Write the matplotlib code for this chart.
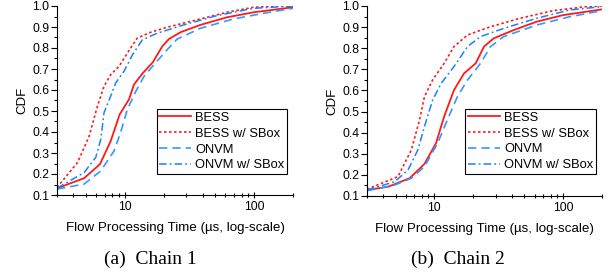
import matplotlib
matplotlib.use("Agg")
import matplotlib.pyplot as plt
from matplotlib.ticker import FixedLocator, NullFormatter, LogLocator

plt.rcParams['font.family'] = ['Liberation Sans', 'DejaVu Sans']

RED = '#ff1a1a'
BLUE = '#3399ff'
BLUE2 = '#1a80ff'

# Chain 1 (x in us, y = CDF)
c1_bess_x = [3, 4.86, 6.45, 7.8, 9.15, 10.8, 11.8, 13.7, 16.5, 19.5, 21.9, 27, 38.5, 61.6, 99, 200]
c1_bess_y = [0.132, 0.18, 0.247, 0.357, 0.484, 0.555, 0.626, 0.678, 0.732, 0.807, 0.842, 0.875, 0.91, 0.946, 0.97, 0.994]
c1_bsb_x = [3, 4.33, 5.32, 6.16, 6.93, 7.8, 9.05, 10.5, 12.5, 15.9, 21.3, 34, 61.6, 99, 150, 200]
c1_bsb_y = [0.136, 0.255, 0.381, 0.523, 0.618, 0.673, 0.713, 0.776, 0.847, 0.875, 0.899, 0.93, 0.97, 0.994, 1.0, 1.0]
c1_onvm_x = [3, 4.86, 6.54, 8.28, 9.3, 10.5, 12.2, 14.1, 17.3, 21.3, 25.4, 38.5, 69, 125, 200]
c1_onvm_y = [0.128, 0.152, 0.215, 0.31, 0.397, 0.508, 0.594, 0.665, 0.729, 0.792, 0.842, 0.894, 0.938, 0.968, 0.989]
c1_osb_x = [3, 4.86, 5.98, 6.54, 6.93, 7.8, 8.53, 9.88, 11.5, 13.7, 17.8, 28.6, 51.6, 99, 200]
c1_osb_y = [0.132, 0.207, 0.279, 0.365, 0.492, 0.571, 0.634, 0.689, 0.768, 0.839, 0.87, 0.91, 0.954, 0.989, 1.0]

# Chain 2
c2_bess_x = [3, 4.38, 6.42, 8.38, 10.3, 11.9, 14.2, 17, 20.9, 24.3, 28.9, 41.3, 62.4, 100, 200]
c2_bess_y = [0.128, 0.144, 0.184, 0.252, 0.35, 0.476, 0.602, 0.681, 0.728, 0.808, 0.847, 0.886, 0.926, 0.957, 0.984]
c2_bsb_x = [3, 5.22, 6.62, 7.67, 8.38, 9.7, 11.9, 14.2, 18.1, 27.3, 46.4, 83.7, 151, 200]
c2_bsb_y = [0.132, 0.192, 0.318, 0.46, 0.571, 0.65, 0.728, 0.808, 0.863, 0.902, 0.942, 0.978, 0.997, 1.0]
c2_onvm_x = [3, 4.93, 6.62, 8.38, 10.6, 12.6, 15.1, 18.1, 22.8, 27.3, 34.5, 62.4, 112, 200]
c2_onvm_y = [0.125, 0.152, 0.184, 0.239, 0.35, 0.46, 0.571, 0.65, 0.728, 0.808, 0.855, 0.91, 0.949, 0.978]
c2_osb_x = [3, 4.93, 6.24, 7.44, 8.38, 9.7, 11.3, 14.2, 18.1, 22.8, 34.5, 62.4, 112, 200]
c2_osb_y = [0.128, 0.168, 0.223, 0.318, 0.429, 0.555, 0.634, 0.713, 0.808, 0.855, 0.894, 0.942, 0.981, 0.997]

labels = ['BESS', 'BESS w/ SBox', 'ONVM', 'ONVM w/ SBox']
captions = ['(a)  Chain 1', '(b)  Chain 2']

fig = plt.figure(figsize=(6.1, 2.75), dpi=100)
ax1 = fig.add_axes([57 / 610, 1 - 195 / 275, 236 / 610, 189 / 275])
ax2 = fig.add_axes([367 / 610, 1 - 196 / 275, 235 / 610, 190 / 275])

chains = [
    (ax1, c1_bess_x, c1_bess_y, c1_bsb_x, c1_bsb_y, c1_onvm_x, c1_onvm_y, c1_osb_x, c1_osb_y, (0.975, 0.111)),
    (ax2, c2_bess_x, c2_bess_y, c2_bsb_x, c2_bsb_y, c2_onvm_x, c2_onvm_y, c2_osb_x, c2_osb_y, (0.974, 0.116)),
]

for i, (ax, bx, by, bsx, bsy, ox, oy, osx, osy, anchor) in enumerate(chains):
    ax.plot(bx, by, color=RED, lw=1.3, label=labels[0])
    ax.plot(bsx, bsy, color=RED, lw=1.2, dashes=(1.5, 1.5), label=labels[1])
    ax.plot(ox, oy, color=BLUE, lw=1.2, dashes=(5, 3), label=labels[2])
    ax.plot(osx, osy, color=BLUE2, lw=1.1, dashes=(5, 2, 1.2, 2), label=labels[3])

    ax.set_xscale('log')
    ax.set_xlim(3, 200)
    ax.set_ylim(0.1, 1.0)
    ax.spines['top'].set_visible(False)
    ax.spines['right'].set_visible(False)
    ax.set_xticks([10, 100])
    ax.set_xticklabels(['10', '100'])
    ax.xaxis.set_minor_locator(LogLocator(base=10, subs=range(2, 10)))
    ax.xaxis.set_minor_formatter(NullFormatter())
    ax.set_yticks([0.1 * k for k in range(1, 11)])
    ax.set_yticklabels(['%.1f' % (0.1 * k) for k in range(1, 11)])
    ax.yaxis.set_minor_locator(FixedLocator([0.15 + 0.1 * k for k in range(9)]))
    ax.tick_params(axis='y', which='major', direction='out', length=4, width=0.8, labelsize=8.7, pad=1.5)
    ax.tick_params(axis='y', which='minor', direction='out', length=2, width=0.8)
    ax.tick_params(axis='x', which='major', direction='inout', length=5, width=0.8, labelsize=8.7, pad=2)
    ax.tick_params(axis='x', which='minor', direction='inout', length=3, width=0.8)
    ax.set_ylabel('CDF', fontsize=9.5, labelpad=3)
    ax.set_xlabel('Flow Processing Time (\u00b5s, log-scale)', fontsize=9.6, labelpad=6)
    leg = ax.legend(loc='lower right', bbox_to_anchor=anchor, fontsize=9.3,
                    fancybox=False, framealpha=1, edgecolor='black',
                    handlelength=2.5, handletextpad=0.3, borderpad=0.2,
                    labelspacing=0.3, borderaxespad=0)
    leg.get_frame().set_linewidth(0.8)

fig.text(150 / 610, 1 - 259 / 275, captions[0], ha='center', va='center',
         fontsize=14, family=['Liberation Serif', 'DejaVu Serif'])
fig.text(458 / 610, 1 - 259 / 275, captions[1], ha='center', va='center',
         fontsize=14, family=['Liberation Serif', 'DejaVu Serif'])

fig.savefig('out.png', dpi=100)
